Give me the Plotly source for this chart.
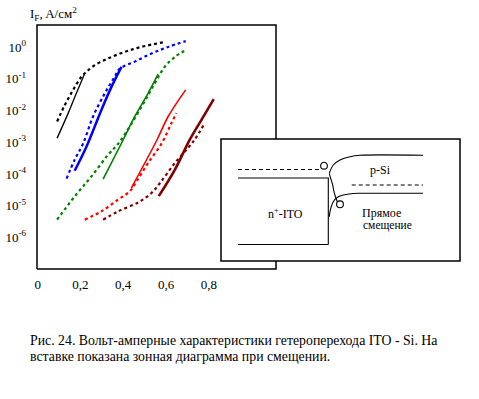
import plotly.graph_objects as go

# ---- data (V, I in A/cm^2) ----
black_solid_v = [0.091, 0.143, 0.181, 0.220]
black_solid_i = [1.35e-3, 8.3e-3, 3.5e-2, 0.148]
black_dot_v = [0.091, 0.127, 0.166, 0.205, 0.228, 0.267, 0.329, 0.407, 0.485, 0.599]
black_dot_i = [4.5e-3, 1.5e-2, 4.5e-2, 0.117, 0.166, 0.27, 0.44, 0.71, 1.02, 1.48]

blue_solid_v = [0.173, 0.228, 0.298, 0.345, 0.392]
blue_solid_i = [1.26e-4, 7.2e-4, 1.05e-2, 5.6e-2, 0.24]
blue_dot_v = [0.135, 0.173, 0.213, 0.259, 0.314, 0.360, 0.384, 0.454, 0.532, 0.610, 0.692]
blue_dot_i = [7.1e-5, 2.8e-4, 9.3e-4, 6.5e-3, 3.5e-2, 0.117, 0.21, 0.35, 0.63, 1.02, 1.55]

green_solid_v = [0.306, 0.400, 0.454, 0.516, 0.563]
green_solid_i = [6.9e-5, 1.2e-3, 6.5e-3, 3.5e-2, 0.141]
green_dot_v = [0.091, 0.173, 0.251, 0.329, 0.384, 0.485, 0.547, 0.594, 0.641, 0.685]
green_dot_i = [3.6e-6, 1.95e-5, 8.3e-5, 4.0e-4, 1.05e-3, 1.3e-2, 7.2e-2, 0.24, 0.49, 0.76]

red_solid_v = [0.438, 0.558, 0.610, 0.692]
red_solid_i = [3.6e-5, 1.2e-3, 6.5e-3, 4.5e-2]
red_dot_v = [0.220, 0.298, 0.376, 0.430, 0.462, 0.516, 0.582, 0.625, 0.649]
red_dot_i = [3.6e-6, 6.6e-6, 1.55e-5, 2.8e-5, 5.8e-5, 2.2e-4, 9.8e-4, 4.0e-3, 8.3e-3]

dred_solid_v = [0.566, 0.641, 0.711, 0.765, 0.823]
dred_solid_i = [2.0e-5, 1.35e-4, 1.2e-3, 5.0e-3, 2.3e-2]
dred_dot_v = [0.306, 0.376, 0.470, 0.532, 0.571, 0.641, 0.727, 0.781]
dred_dot_i = [3.6e-6, 6.6e-6, 1.26e-5, 2.5e-5, 5.1e-5, 2.2e-4, 1.05e-3, 4.0e-3]

x_tickvals = [0, 0.2, 0.4, 0.6, 0.8]
x_ticktext = ["0", "0,2", "0,4", "0,6", "0,8"]
y_tickvals = [1, 1e-1, 1e-2, 1e-3, 1e-4, 1e-5, 1e-6]
y_ticktext = ["10<sup>0</sup>", "10<sup>-1</sup>", "10<sup>-2</sup>", "10<sup>-3</sup>",
              "10<sup>-4</sup>", "10<sup>-5</sup>", "10<sup>-6</sup>"]

# ---- inset band diagram (inset-local units, y downward) ----
ito_fermi = ([17, 101], [30.5, 30.5])
ito_cb = ([17, 107.3, 107.3], [39, 39, 105.5])
ito_bottom = ([17, 107.3], [105.5, 105.5])
psi_cb = ([108.3, 112.3, 119, 129, 139, 202], [34.3, 26, 21, 17.7, 16.3, 16.3])
psi_fermi = ([130.7, 202], [46, 46])
psi_vb = ([108.3, 109.7, 112.3, 115.7, 122.3, 132.3, 140, 202], [77.7, 69.3, 62.7, 58.7, 56, 54.5, 54.3, 54.3])
wiggle = ([108.3, 109.7, 111.7, 113, 115, 116.3], [34.3, 39.3, 46, 52.7, 59.3, 62.7])
circles = [(103, 26.7), (119, 65.3)]

W, H = 479, 399
FONT = "Liberation Serif, Times New Roman, Times, serif"
main_x = [37 / W, 276 / W]
main_y = [1 - 269 / H, 1 - 25 / H]
ins_x = [221 / W, 460 / W]
ins_y = [1 - 261 / H, 1 - 139 / H]

fig = go.Figure()

def add(v, i, color, dot, width):
    fig.add_trace(go.Scatter(
        x=v, y=i, mode="lines", xaxis="x", yaxis="y",
        line=dict(color=color, width=width, dash="dot" if dot else "solid", shape="spline"),
        showlegend=False, hoverinfo="skip"))

add(black_dot_v, black_dot_i, "#000000", True, 2.2)
add(black_solid_v, black_solid_i, "#000000", False, 1.3)
add(blue_dot_v, blue_dot_i, "#0000FF", True, 2.2)
add(blue_solid_v, blue_solid_i, "#0000FF", False, 2.5)
add(green_dot_v, green_dot_i, "#008000", True, 2.2)
add(green_solid_v, green_solid_i, "#008000", False, 1.6)
add(red_dot_v, red_dot_i, "#FF0000", True, 2.2)
add(red_solid_v, red_solid_i, "#FF0000", False, 1.6)
add(dred_dot_v, dred_dot_i, "#800000", True, 2.2)
add(dred_solid_v, dred_solid_i, "#800000", False, 2.6)

def inset_line(xy, dash="solid", spline=False):
    fig.add_trace(go.Scatter(
        x=xy[0], y=xy[1], mode="lines", xaxis="x2", yaxis="y2",
        line=dict(color="black", width=1.1, dash=dash, shape="spline" if spline else "linear"),
        showlegend=False, hoverinfo="skip"))

inset_line(ito_fermi, dash="4px,3px")
inset_line(ito_cb)
inset_line(ito_bottom)
inset_line(psi_cb, spline=True)
inset_line(psi_fermi, dash="4px,3px")
inset_line(psi_vb, spline=True)
inset_line(wiggle, spline=True)

frame_line = dict(color="black", width=1.5)
L, R = main_x
B, T = main_y
# main frame, right side interrupted where the inset box covers it
frame_path = (f"M{L},{B} L{L},{T} L{R},{T} L{R},{ins_y[1]} "
              f"M{R},{ins_y[0]} L{R},{B} L{L},{B}")
shapes = [
    dict(type="path", xref="paper", yref="paper", path=frame_path, line=frame_line, layer="above"),
    dict(type="rect", xref="paper", yref="paper", x0=ins_x[0], x1=ins_x[1],
         y0=ins_y[0], y1=ins_y[1], line=frame_line, layer="above"),
]
for cx, cy in circles:
    r = 3.4
    shapes.append(dict(type="circle", xref="x2", yref="y2", x0=cx - r, x1=cx + r,
                       y0=cy - r, y1=cy + r, line=dict(color="black", width=1.1),
                       fillcolor="white"))

tf = dict(family=FONT, size=13, color="black")
f12 = dict(family=FONT, size=12, color="black")
fcap = dict(family=FONT, size=13.8, color="black")
annotations = [
    dict(text="I<sub>F</sub>, A/см<sup>2</sup>", xref="paper", yref="paper",
         x=28 / W, y=1 - 14 / H, xanchor="left", yanchor="middle", showarrow=False, font=tf),
    dict(text="n<sup>+</sup>-ITO", xref="x2", yref="y2", x=64.5, y=74, showarrow=False, font=f12),
    dict(text="p-Si", xref="x2", yref="y2", x=159, y=31, showarrow=False, font=f12),
    dict(text="Прямое", xref="x2", yref="y2", x=139, y=74, xanchor="left", showarrow=False, font=f12),
    dict(text="смещение", xref="x2", yref="y2", x=140, y=86.5, xanchor="left", showarrow=False,
         font=dict(family=FONT, size=11.5, color="black")),
    dict(text="Рис. 24. Вольт-амперные характеристики гетероперехода ITO - Si. На",
         xref="paper", yref="paper", x=28 / W, y=1 - 340 / H, xanchor="left",
         yanchor="middle", showarrow=False, font=fcap),
    dict(text="вставке показана зонная диаграмма при смещении.",
         xref="paper", yref="paper", x=28 / W, y=1 - 356.5 / H, xanchor="left",
         yanchor="middle", showarrow=False, font=fcap),
]

fig.update_layout(
    width=W, height=H, margin=dict(l=0, r=0, t=0, b=0),
    paper_bgcolor="white", plot_bgcolor="rgba(0,0,0,0)",
    font=dict(family=FONT, color="black"),
    xaxis=dict(domain=main_x, range=[-0.003, 1.114], showline=False, showgrid=False,
               zeroline=False, tickvals=x_tickvals, ticktext=x_ticktext, ticks="",
               ticklabelstandoff=6, tickfont=tf, anchor="y", automargin=False, fixedrange=True),
    yaxis=dict(domain=main_y, type="log", range=[-7, 0.7], showline=False, showgrid=False,
               zeroline=False, tickvals=y_tickvals, ticktext=y_ticktext, ticks="",
               ticklabelstandoff=10, tickfont=tf, anchor="x", automargin=False, fixedrange=True),
    xaxis2=dict(domain=ins_x, range=[0, 239], visible=False, anchor="y2", fixedrange=True),
    yaxis2=dict(domain=ins_y, range=[122, 0], visible=False, anchor="x2", fixedrange=True),
    shapes=shapes, annotations=annotations,
)

fig.write_html("out.html", config={"displayModeBar": False},
               post_script="document.body.style.margin='0';document.body.style.padding='0';")
